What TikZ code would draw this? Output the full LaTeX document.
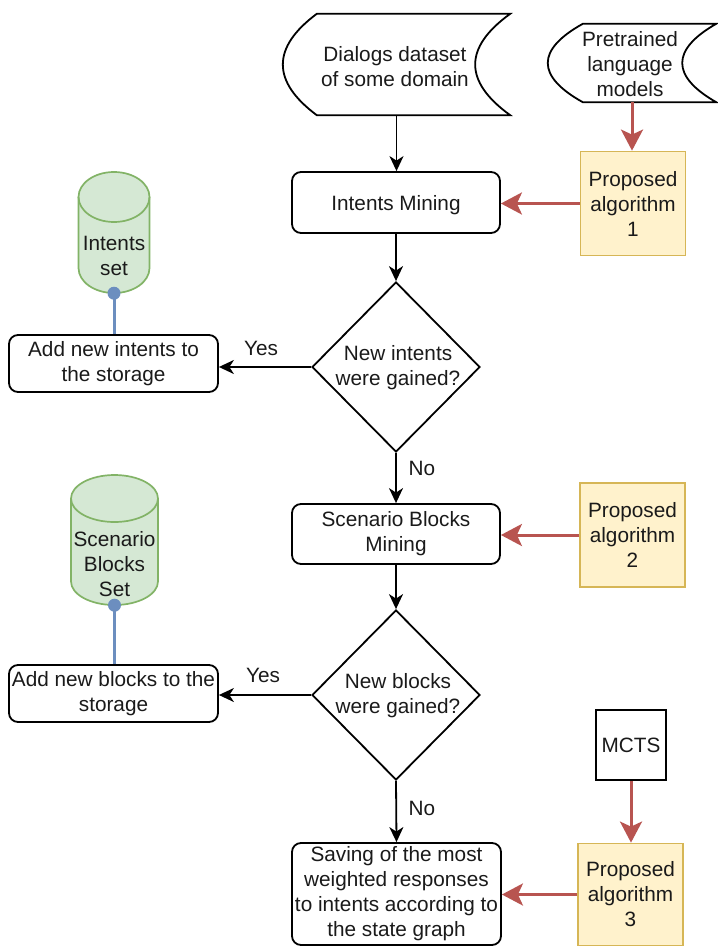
\documentclass[tikz,border=0pt]{standalone}
\usepackage{fontspec}
\setmainfont{Liberation Sans}
\usetikzlibrary{arrows.meta,shapes.geometric,calc}
\definecolor{algofill}{HTML}{FFF2CC}
\definecolor{algodraw}{HTML}{D6B656}
\definecolor{cylfill}{HTML}{D5E8D4}
\definecolor{cyldraw}{HTML}{82B366}
\definecolor{redline}{HTML}{B85450}
\definecolor{blueline}{HTML}{6C8EBF}
\definecolor{txtcol}{HTML}{1A1A1A}
\newcommand{\drawdrum}[5]{%
 \pgfmathsetmacro{\cyL}{#1-#4}\pgfmathsetmacro{\cyR}{#1+#4}%
 \pgfmathsetmacro{\cyA}{#2+#5}\pgfmathsetmacro{\cyB}{#3-#5}%
 \pgfmathsetmacro{\cyKx}{0.5523*#4}\pgfmathsetmacro{\cyKy}{0.5523*#5}%
 \pgfmathsetmacro{\cyE}{#2+2*#5}%
 \filldraw[fill=cylfill, draw=cyldraw, line width=1.7pt]
  (\cyL,\cyA) -- (\cyL,\cyB) .. controls (\cyL,\cyB+\cyKy) and (#1-\cyKx,#3) .. (#1,#3)
  .. controls (#1+\cyKx,#3) and (\cyR,\cyB+\cyKy) .. (\cyR,\cyB) -- (\cyR,\cyA)
  .. controls (\cyR,\cyA-\cyKy) and (#1+\cyKx,#2) .. (#1,#2)
  .. controls (#1-\cyKx,#2) and (\cyL,\cyA-\cyKy) .. (\cyL,\cyA) -- cycle;
 \draw[draw=cyldraw, line width=1.7pt]
  (\cyL,\cyA) .. controls (\cyL,\cyA+\cyKy) and (#1-\cyKx,\cyE) .. (#1,\cyE)
  .. controls (#1+\cyKx,\cyE) and (\cyR,\cyA+\cyKy) .. (\cyR,\cyA);
}
\begin{document}
\begin{tikzpicture}[x=1pt,y=-1pt,
 font=\fontsize{20.75pt}{25pt}\selectfont,
 every node/.style={text=txtcol},
 procbox/.style={draw, line width=1.8pt, rounded corners=9pt, fill=white, align=center, inner sep=0pt},
 algobox/.style={draw=algodraw, fill=algofill, line width=1.8pt, align=center, inner sep=0pt, minimum width=105pt, minimum height=104pt},
 plainbox/.style={draw, line width=1.8pt, fill=white, inner sep=0pt, minimum width=70pt, minimum height=70pt},
 decision/.style={draw, diamond, line width=1.8pt, fill=white, inner sep=0pt, minimum width=168pt, minimum height=170pt},
 txtonly/.style={align=center, inner sep=0pt},
 flow/.style={draw, line width=1.8pt, -{Stealth[length=15pt,width=14pt,inset=4.5pt]}},
 feed/.style={draw=redline, line width=3pt, -{Stealth[length=21pt,width=22pt,inset=5pt]}},
 link/.style={draw=blueline, line width=3pt},
 lbl/.style={inner sep=0pt, anchor=base}]
\useasboundingbox (0,0) rectangle (717,947);
\fill[white] (0,0) rectangle (717,947);

% Dialogs dataset (stored data)
\node[txtonly, minimum width=227pt, minimum height=101pt] (ds) at (396.5,64.5) {};
\filldraw[fill=white, draw=black, line width=1.8pt]
 ($(ds.north west)+(34,0)$) -- (ds.north east)
 .. controls ($(ds.north east)+(-46.7,33.7)$) and ($(ds.south east)+(-46.7,-33.7)$) .. (ds.south east)
 -- ($(ds.south west)+(34,0)$)
 .. controls ($(ds.south west)+(-11.3,-33.7)$) and ($(ds.north west)+(-11.3,33.7)$) .. ($(ds.north west)+(34,0)$) -- cycle;
\node[txtonly] (dst) at (395,67) {Dialogs dataset\\of some domain};

% Pretrained language models (stored data)
\node[txtonly, minimum width=168pt, minimum height=78pt] (pt) at (632,63) {};
\filldraw[fill=white, draw=black, line width=1.8pt]
 ($(pt.north west)+(35,0)$) -- (pt.north east)
 .. controls ($(pt.north east)+(-45.3,26)$) and ($(pt.south east)+(-45.3,-26)$) .. (pt.south east)
 -- ($(pt.south west)+(35,0)$)
 .. controls ($(pt.south west)+(-11.7,-26)$) and ($(pt.north west)+(-11.7,26)$) .. ($(pt.north west)+(35,0)$) -- cycle;
\node[txtonly] (ptt) at (630,64) {Pretrained\\language\\models};

% main flow
\node[procbox, minimum width=208pt, minimum height=61pt, text height=15pt, text depth=0pt] (im) at (396,202.5) {Intents Mining};
\node[algobox] (pa1) at (633,203.5) {Proposed\\algorithm\\1};
\node[decision] (d1) at (396,367) {};
\node[txtonly] (d1t) at (398,368) {New intents\\were gained?};
\node[procbox, minimum width=209pt, minimum height=57pt] (ani) at (113.5,363.5) {Add new intents to\\the storage};

\node[procbox, minimum width=208pt, minimum height=60pt] (sbm) at (396,534) {Scenario Blocks\\Mining};
\node[algobox] (pa2) at (632.5,535) {Proposed\\algorithm\\2};
\node[decision] (d2) at (396,695) {};
\node[txtonly] (d2t) at (398,696) {New blocks\\were gained?};
\node[procbox, minimum width=209pt, minimum height=57pt] (anb) at (113.5,693.5) {Add new blocks to the\\storage};

\node[procbox, minimum width=209pt, minimum height=102pt] (sav) at (396.5,894) {Saving of the most\\weighted responses\\to intents according to\\the state graph};
\node[plainbox] (mcts) at (631,745) {MCTS};
\node[algobox, minimum height=102pt] (pa3) at (630.5,894.5) {Proposed\\algorithm\\3};

% cylinders
\drawdrum{114}{172}{293}{35.5}{25}
\node[txtonly, minimum width=71pt, minimum height=121pt] (cy1) at (114,232.5) {};
\node[txtonly] (cy1t) at (114,256) {Intents\\set};
\drawdrum{114.5}{475}{605}{43.5}{23.5}
\node[txtonly, minimum width=87pt, minimum height=130pt] (cy2) at (114.5,540) {};
\node[txtonly] (cy2t) at (114.5,564) {Scenario\\Blocks\\Set};

% connectors
\draw[flow] (ds.south) -- (ds.south |- im.north);
\draw[feed] (pt.south) -- (pt.south |- pa1.north);
\draw[feed] (pa1.west) -- (pa1.west -| im.east);
\draw[flow] (im.south) -- (d1.north);
\draw[flow] (d1.west) -- (d1.west -| ani.east);
\draw[link] (cy1.south) -- (cy1.south |- ani.north);
\fill[blueline] (cy1.south) circle (6.5pt);
\draw[flow] (d1.south) -- (sbm.north);
\draw[feed] (pa2.west) -- (pa2.west -| sbm.east);
\draw[flow] (sbm.south) -- (d2.north);
\draw[flow] (d2.west) -- (d2.west -| anb.east);
\draw[link] (cy2.south) -- (cy2.south |- anb.north);
\fill[blueline] (cy2.south) circle (6.5pt);
\draw[flow] (d2.south) -- (sav.north);
\draw[feed] (mcts.south) -- (mcts.south |- pa3.north);
\draw[feed] (pa3.west) -- (pa3.west -| sav.east);

% labels
\node[lbl] (yes1) at (261,355) {Yes};
\node[lbl] (no1) at (422,475) {No};
\node[lbl] (yes2) at (263,682) {Yes};
\node[lbl] (no2) at (422,815) {No};
\end{tikzpicture}
\end{document}
